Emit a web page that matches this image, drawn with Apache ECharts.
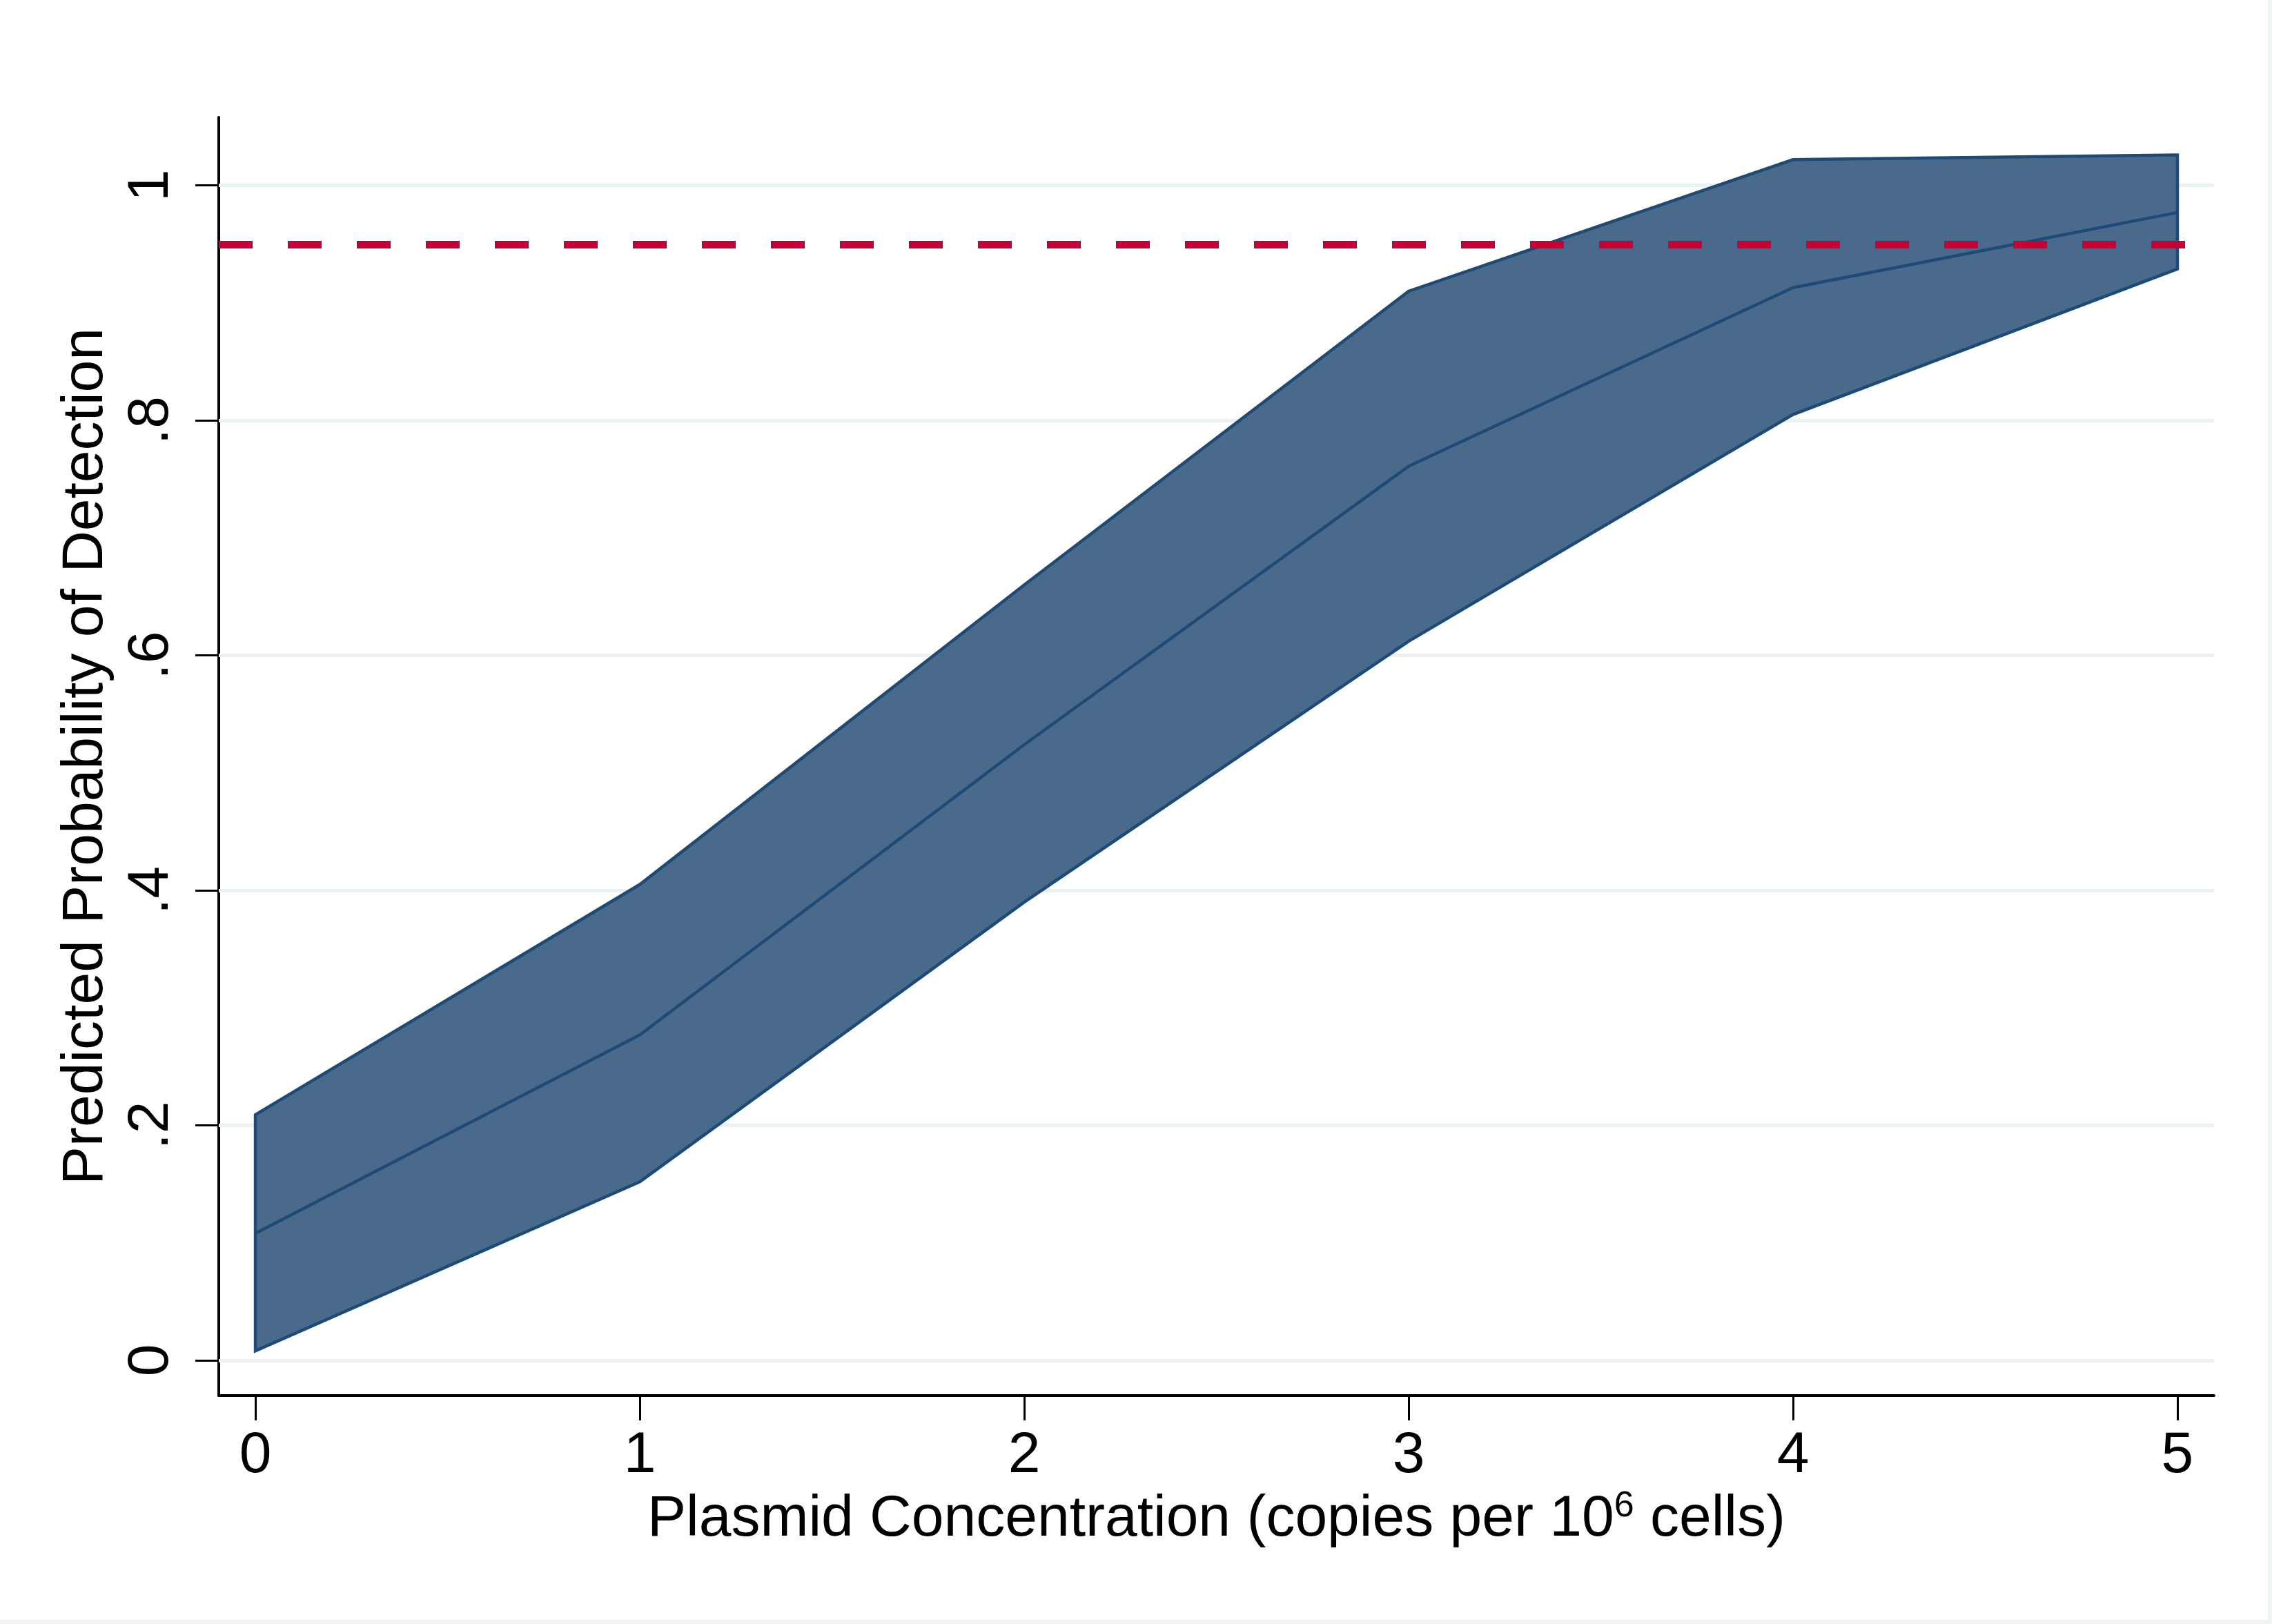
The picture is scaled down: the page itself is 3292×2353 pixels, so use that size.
<!DOCTYPE html>
<html>
<head>
<meta charset="utf-8">
<script src="https://cdn.jsdelivr.net/npm/echarts@6/dist/echarts.min.js"></script>
<style>
  html, body { margin: 0; padding: 0; background: #ffffff; }
  #wrap { width: 3286px; height: 2347px; border-right: 6px solid #eef3f4; border-bottom: 6px solid #eef3f4; }
  #chart { width: 3286px; height: 2347px; }
</style>
</head>
<body>
<div id="wrap"><div id="chart"></div></div>
<script>
// ---- data ----
const concentration = [0, 1, 2, 3, 4, 5];
const predicted     = [0.108, 0.277, 0.524, 0.761, 0.913, 0.977];
const lowerCI       = [0.008, 0.152, 0.390, 0.612, 0.805, 0.929];
const upperCI       = [0.209, 0.405, 0.660, 0.910, 1.022, 1.026];
const threshold     = 0.95;
const thresholdEndX = 5.023;
const xTicks = [0, 1, 2, 3, 4, 5];
const yTicks = [0, 0.2, 0.4, 0.6, 0.8, 1];
const X_MIN = -0.0952, X_MAX = 5.0952;
const Y_MIN = -0.030, Y_MAX = 1.058;

const FONT = '"Liberation Sans", Arial, Helvetica, sans-serif';
const bandRows = concentration.map((x, i) => [x, lowerCI[i], upperCI[i]]);
const meanRows = concentration.map((x, i) => [x, predicted[i]]);

const chart = echarts.init(document.getElementById('chart'), null, { renderer: 'canvas' });

const option = {
  backgroundColor: '#ffffff',
  animation: false,
  grid: { left: 317, top: 170, right: 78, bottom: 325, containLabel: false },
  xAxis: {
    type: 'value', min: X_MIN, max: X_MAX,
    axisLine: { show: true, onZero: false, lineStyle: { color: '#000', width: 4 } },
    axisTick: { show: true, length: 36, customValues: xTicks, lineStyle: { color: '#000', width: 3 } },
    axisLabel: { customValues: xTicks, fontSize: 84, fontFamily: FONT, color: '#000', margin: 46,
                 formatter: v => String(v) },
    splitLine: { show: false },
    name: '{a|Plasmid Concentration (copies per 10}{s|6}{a| cells)}',
    nameLocation: 'middle', nameGap: 134,
    nameTextStyle: {
      rich: {
        a: { fontSize: 84, fontFamily: FONT, color: '#000', lineHeight: 90 },
        s: { fontSize: 52, fontFamily: FONT, color: '#000', verticalAlign: 'top', lineHeight: 52 }
      }
    }
  },
  yAxis: {
    type: 'value', min: Y_MIN, max: Y_MAX,
    axisLine: { show: true, onZero: false, lineStyle: { color: '#000', width: 4 } },
    axisTick: { show: true, length: 34, customValues: yTicks, lineStyle: { color: '#000', width: 3 } },
    axisLabel: { customValues: yTicks, fontSize: 84, fontFamily: FONT, color: '#000', margin: 55, rotate: 90,
                 formatter: v => (Math.abs(v - 1) < 1e-9 ? '1' : (Math.abs(v) < 1e-9 ? '0' : String(+v.toFixed(1)).replace(/^0\./, '.'))) },
    splitLine: { show: false },
    name: 'Predicted Probability of Detection',
    nameLocation: 'middle', nameRotate: 90, nameGap: 150,
    nameTextStyle: { fontSize: 84, fontFamily: FONT, color: '#000' }
  },
  series: [
    {
      name: 'grid', type: 'line', data: [], z: 1, silent: true,
      markLine: {
        z: 1, silent: true, symbol: ['none', 'none'], label: { show: false },
        lineStyle: { color: '#eaf1f2', width: 5, type: 'solid' },
        data: yTicks.map(v => ({ yAxis: v }))
      }
    },
    {
      name: 'CI', type: 'custom', z: 2, silent: true, clip: false,
      data: bandRows,
      encode: { x: 0, y: [1, 2] },
      renderItem: function (params, api) {
        if (params.dataIndex !== 0) return null;
        const pts = [];
        for (let i = 0; i < bandRows.length; i++) pts.push(api.coord([bandRows[i][0], bandRows[i][2]]));
        for (let i = bandRows.length - 1; i >= 0; i--) pts.push(api.coord([bandRows[i][0], bandRows[i][1]]));
        return {
          type: 'polygon',
          shape: { points: pts },
          style: { fill: '#496a8b', stroke: '#1e4a76', lineWidth: 4.5, lineJoin: 'miter' }
        };
      }
    },
    {
      name: 'Predicted', type: 'line', z: 3, silent: true,
      data: meanRows, showSymbol: false, symbol: 'none',
      lineStyle: { color: '#1e4a76', width: 4.5 }
    },
    {
      name: 'threshold', type: 'line', z: 4, data: [], silent: true,
      markLine: {
        z: 10, silent: true, symbol: ['none', 'none'], label: { show: false },
        lineStyle: { color: '#c70036', width: 11, type: [49, 51], cap: 'butt' },
        data: [[{ coord: [X_MIN, threshold] }, { coord: [thresholdEndX, threshold] }]]
      }
    }
  ]
};
chart.setOption(option);
</script>
</body>
</html>
